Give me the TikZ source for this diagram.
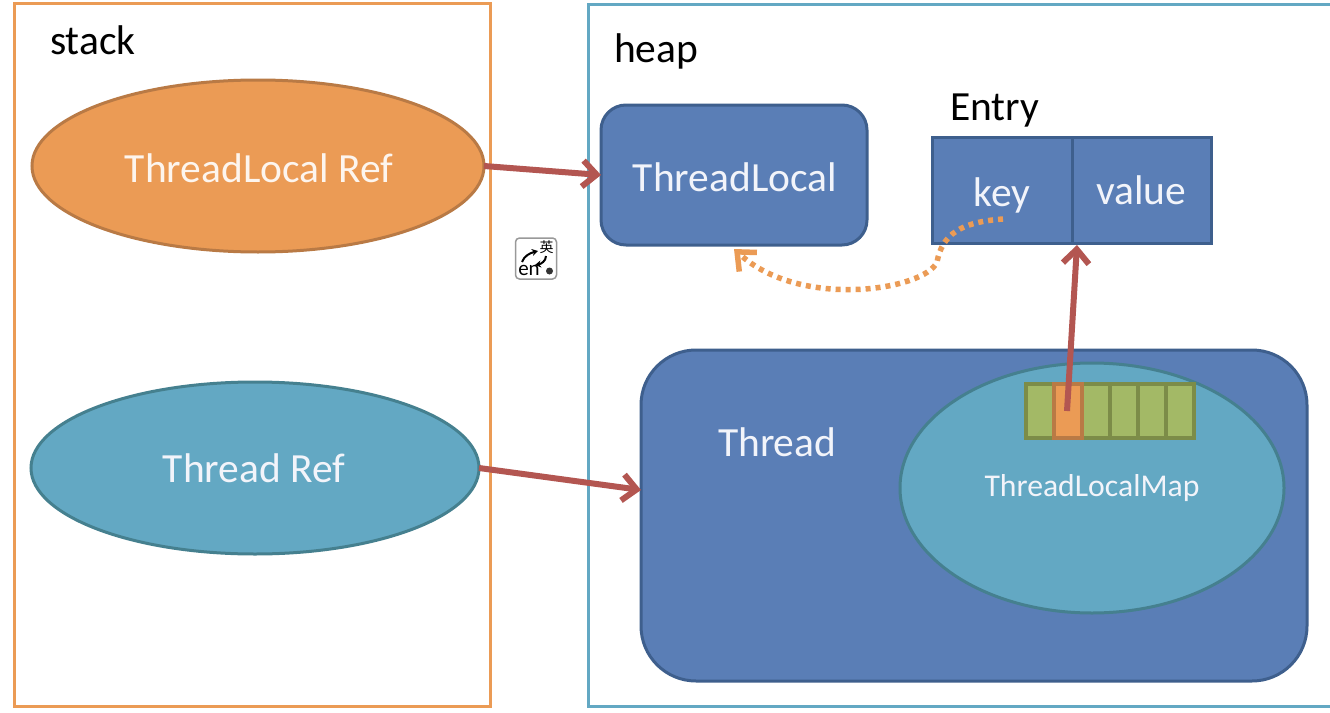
\documentclass[tikz,border=0pt]{standalone}
\usepackage{fontspec}
\setmainfont{Carlito}
\newfontfamily\cjkfont{Noto Sans CJK SC}
\usetikzlibrary{arrows.meta,shapes.geometric}
\definecolor{cOrange}{HTML}{EB9B55}
\definecolor{cOrangeD}{HTML}{B97A45}
\definecolor{cTeal}{HTML}{63A8C3}
\definecolor{cTealD}{HTML}{45808F}
\definecolor{cBlue}{HTML}{5A7EB6}
\definecolor{cBlueD}{HTML}{3E5F8D}
\definecolor{cGreen}{HTML}{A3B966}
\definecolor{cGreenD}{HTML}{7C8C48}
\definecolor{cRed}{HTML}{B35651}
\definecolor{cText}{HTML}{F2F4FA}
\tikzset{
  x=1pt,y=-1pt,
  every node/.style={inner sep=0pt,outer sep=0pt},
  title/.style={text=black,font=\fontsize{41.5}{44}\selectfont},
  label/.style={text=cText,font=\fontsize{41.5}{44}\selectfont},
  oval/.style={ellipse,line width=3pt},
  bluebox/.style={fill=cBlue,draw=cBlueD,line width=3pt,rounded corners=#1},
  bluebox/.default=0pt,
  cell/.style={rectangle,minimum width=28pt,minimum height=54pt,fill=cGreen,draw=cGreenD,line width=3.5pt},
  ref/.style={draw=cRed,line width=6pt,-{Straight Barb[length=14pt,width=26pt,line width=6pt]}},
  weak/.style={draw=cOrange,line width=5.5pt,dash pattern=on 5pt off 5pt,-{Straight Barb[length=15pt,width=26pt,line width=5.5pt]}},
  imeline/.style={draw=black,line width=2pt,-{Stealth[length=6pt,width=7pt]}}
}
\begin{document}
\begin{tikzpicture}
\useasboundingbox (0,0) rectangle (1330,712);
\fill[white] (0,0) rectangle (1330,712);
% panels
\node[rectangle,draw=cOrange,line width=3pt,minimum width=476pt,minimum height=703pt] (stack) at (252,354.5) {};
\coordinate (heapTR) at (1330,4);
\coordinate (heapBR) at (1330,706);
\draw[cTeal,line width=3pt] (heapTR) -- (588,4) -- (588,706) -- (heapBR);
\node[title,anchor=base west] (stackT) at (50,54.5) {stack};
\node[title,anchor=base west] (heapT) at (614,62) {heap};
\node[title,anchor=base west] (entryT) at (950,120) {Entry};
% stack items
\node[oval,fill=cOrange,draw=cOrangeD,minimum width=452pt,minimum height=172pt] (tlr) at (258,166) {};
\node[label,text=white!90!cOrange] at (259,168) {ThreadLocal Ref};
\node[oval,fill=cTeal,draw=cTealD,minimum width=448pt,minimum height=172pt] (tr) at (255,468) {};
\node[label] at (254,468) {Thread Ref};
% heap items
\node[rectangle,bluebox=25pt,minimum width=266pt,minimum height=140pt,label] (tl) at (734,175) {};
\node[label] at (735,177) {ThreadLocal};
\node[rectangle,fill=cBlue,draw=cBlueD,line width=3pt,minimum width=140pt,minimum height=106pt] (key) at (1002,190.5) {};
\node[rectangle,fill=cBlue,draw=cBlueD,line width=3pt,minimum width=139pt,minimum height=106pt] (value) at (1141.5,190.5) {};
\node[label] at (1002,195) {key};
\node[label] at (1141,190) {value};
\node[rectangle,bluebox=55pt,minimum width=666pt,minimum height=331pt] (thread) at (974,515.5) {};
\node[label,anchor=base west] at (718,456) {Thread};
\node[oval,fill=cTeal,draw=cTealD,minimum width=384pt,minimum height=250pt] (map) at (1092,488) {};
\node[text=cText,font=\fontsize{31.7}{34}\selectfont] at (1092,488) {ThreadLocalMap};
% array
\node[cell] (c1) at (1040,411) {};
\node[cell] (c3) at (1096,411) {};
\node[cell] (c4) at (1124,411) {};
\node[cell] (c5) at (1152,411) {};
\node[cell] (c6) at (1180,411) {};
\node[cell,fill=cOrange,draw=cOrangeD] (c2) at (1068,411) {};
% connectors
\coordinate (slot) at (1067,411);
\coordinate (keyStart) at (1003,219);
\coordinate (valueIn) at (1077,245);
\coordinate (tlIn) at (734,249);
\draw[ref] (tlr.east) -- (tl.west);
\draw[ref] (tr.east) -- (thread.west |- 0,490);
\draw[ref] (slot) -- (valueIn);
\draw[weak] (keyStart) .. controls (960,222) and (942,235) .. (937,262)
   .. controls (925,290) and (800,310) .. (tlIn);
% input-method icon
\node[rectangle,rounded corners=4pt,fill=white,draw=black!40,line width=1.5pt,minimum width=41pt,minimum height=41pt] (ime) at (536,258.5) {};
\node[text=black,font=\cjkfont\fontsize{14}{14}\selectfont] at (546.5,247) {英};
\node[text=black,font=\fontsize{21}{21}\selectfont] at (529,270) {en};
\coordinate (imeA) at (522,262);
\coordinate (imeB) at (538,251);
\coordinate (imeC) at (546,256);
\coordinate (imeD) at (535,265);
\draw[imeline] (imeA) .. controls (524,256) and (530,253) .. (imeB);
\draw[imeline] (imeC) .. controls (546,261) and (541,264) .. (imeD);
\fill[black!80] (549.5,271) circle (3.5pt);
\end{tikzpicture}
\end{document}
